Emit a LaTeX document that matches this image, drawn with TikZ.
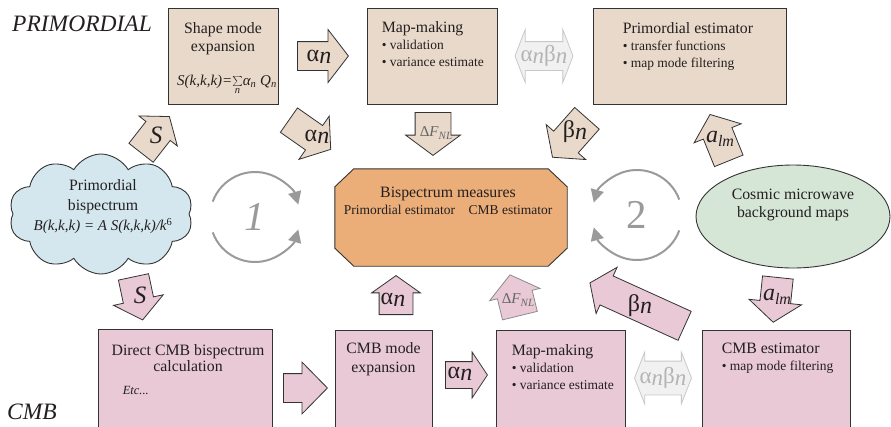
\documentclass[tikz,border=0pt]{standalone}
\usepackage{fontspec}
\setmainfont{Liberation Serif}
\usetikzlibrary{shapes.arrows, shapes.geometric, shapes.symbols, arrows.meta, positioning}

\definecolor{tanc}{HTML}{E9D9CA}
\definecolor{pinkc}{HTML}{E8C9D5}
\definecolor{orangec}{HTML}{EBAE79}
\definecolor{bluec}{HTML}{D4E7EF}
\definecolor{greenc}{HTML}{D5E6D6}
\definecolor{linec}{HTML}{333333}
\definecolor{txtc}{HTML}{231F20}
\definecolor{cycc}{HTML}{9A9A9A}
\definecolor{fadefill}{HTML}{F1F1F1}
\definecolor{fadeline}{HTML}{C8C8C8}
\definecolor{fadetext}{HTML}{B4B4B4}

\newcommand{\fsz}[2]{\fontsize{#1}{#2}\selectfont}
\newcommand{\alphn}{α\raisebox{-1.5pt}{\itshape n}}
\newcommand{\betan}{β\raisebox{-1.5pt}{\itshape n}}
\newcommand{\alm}{\textit{a}\raisebox{-4pt}{\fsz{16}{16}\itshape lm}}
\newcommand{\dFNL}{Δ\textit{F}\raisebox{-3pt}{\fsz{11}{11}\itshape NL}}

\begin{document}
\begin{tikzpicture}[
    x=1pt, y=1pt,
    every node/.style={text=txtc},
    tanbox/.style={draw=linec, fill=tanc, line width=0.9pt, inner sep=0pt},
    pinkbox/.style={tanbox, fill=pinkc},
    boxtext/.style={inner sep=0pt, align=left, font=\fsz{13.5}{17}},
    boxtitle/.style={inner sep=0pt, align=center, font=\fsz{15.8}{18}},
    barrow/.style n args={4}{single arrow, draw=linec, line width=0.8pt, inner sep=0pt,
        inner ysep=#3/2, minimum height=#1, single arrow head extend={(#2-#3)/2},
        single arrow tip angle={2*atan(#2/(2*#4))}, anchor=tail},
    tanarrow/.style n args={4}{barrow={#1}{#2}{#3}{#4}, fill=tanc},
    pinkarrow/.style n args={4}{barrow={#1}{#2}{#3}{#4}, fill=pinkc},
    darrow/.style n args={4}{double arrow, draw=fadeline, fill=fadefill, line width=0.8pt,
        inner sep=0pt, inner ysep=#3/2, minimum height=#1, double arrow head extend={(#2-#3)/2},
        double arrow tip angle={2*atan(#2/(2*#4))}},
    arrtext/.style={inner sep=0pt, font=\fsz{24}{24}},
    smalltext/.style={inner sep=0pt, font=\fsz{15}{15}, text=black!60},
    loopline/.style={draw=cycc, line width=2pt, -{Triangle[length=13pt, width=13pt]}},
    looplbl/.style={inner sep=0pt, text=cycc, font=\fsz{41}{41}},
    rowlbl/.style={inner sep=0pt, anchor=west, font=\fsz{23.5}{24}\itshape}
]
    \useasboundingbox (0,0) rectangle (891,-426);

    % primordial row
    \node[tanbox, minimum width=110, minimum height=96] (shapeBox) at (223,-56) {};
    \node[tanbox, minimum width=130, minimum height=96] (mapTop) at (432,-56) {};
    \node[tanbox, minimum width=193, minimum height=96] (primEst) at (689.5,-56) {};

    \node[boxtitle, below=14.8pt of shapeBox.north] (shapeTxt) {Shape mode\\expansion};
    \node[inner sep=0pt, font=\fsz{15}{15}\itshape, above=10pt of shapeBox.south, xshift=4pt] (shapeEq)
        {S(k,k,k)=$\sum\limits_{\mathit{n}}$α\textsubscript{n} Q\textsubscript{n}};
    \node[boxtext, below right=13.8pt and 15pt of mapTop.north west] (mapTopTxt)
        {{\fsz{15.8}{17}Map-making}\\• validation\\• variance estimate};
    \node[boxtext, below right=14.8pt and 30pt of primEst.north west] (primEstTxt)
        {{\fsz{15.8}{17}Primordial estimator}\\• transfer functions\\• map mode filtering};

    % CMB row
    \node[pinkbox, minimum width=174, minimum height=103] (directBox) at (185,-380.5) {};
    \node[pinkbox, minimum width=97, minimum height=102] (cmbModeBox) at (383.5,-381) {};
    \node[pinkbox, minimum width=129, minimum height=102] (mapBot) at (560.5,-381) {};
    \node[pinkbox, minimum width=148, minimum height=102] (cmbEst) at (776,-381) {};

    \node[boxtitle, font=\fsz{15.8}{16}, below=15.8pt of directBox.north, xshift=3pt] (directTxt)
        {Direct CMB bispectrum\\calculation};
    \node[inner sep=0pt, font=\fsz{12.5}{14}\itshape, below right=58pt and 25pt of directBox.north west] (etcTxt) {Etc...};
    \node[boxtitle, font=\fsz{15.8}{19}, below=12.8pt of cmbModeBox.north] (cmbModeTxt) {CMB mode\\expansion};
    \node[boxtext, below right=14.8pt and 16pt of mapBot.north west] (mapBotTxt)
        {{\fsz{15.8}{17}Map-making}\\• validation\\• variance estimate};
    \node[boxtext, below right=12.8pt and 20pt of cmbEst.north west] (cmbEstTxt)
        {{\fsz{15.8}{18}CMB estimator}\\• map mode filtering};

    % centre
    \node[minimum width=232, minimum height=97, inner sep=0pt] (bsm) at (451,-217.5) {};
    \draw[draw=linec, fill=orangec, line width=0.9pt]
        ([xshift=19pt]bsm.north west) -- ([xshift=-19pt]bsm.north east)
        -- ([yshift=-18pt]bsm.north east) -- ([yshift=18pt]bsm.south east)
        -- ([xshift=-19pt]bsm.south east) -- ([xshift=19pt]bsm.south west)
        -- ([yshift=18pt]bsm.south west) -- ([yshift=-18pt]bsm.north west) -- cycle;
    \node[boxtitle, font=\fsz{15.8}{17}, below=18pt of bsm.north, xshift=-3pt] (bsmTxt)
        {Bispectrum measures\\{\fsz{13.5}{17}Primordial estimator\quad CMB estimator}};

    \node[cloud, cloud puffs=10, cloud puff arc=120, cloud ignores aspect, draw=linec, fill=bluec,
        line width=0.9pt, minimum width=184, minimum height=120, inner sep=0pt] (pbs) at (101,-214) {};
    \node[boxtitle, font=\fsz{15.8}{20}, at={([xshift=2pt, yshift=7pt]pbs.center)}] (pbsTxt)
        {Primordial\\bispectrum\\{\fsz{15}{20}\itshape B(k,k,k) = A S(k,k,k)/k\textsuperscript{\upshape 6}}};

    \node[ellipse, draw=linec, fill=greenc, line width=0.9pt, minimum width=194, minimum height=103,
        inner sep=0pt] (cmbm) at (793,-216.5) {};
    \node[boxtitle, at={([yshift=12pt]cmbm.center)}] (cmbmTxt) {Cosmic microwave\\background maps};

    % loops
    \coordinate (loopA) at (255,-217);
    \draw[loopline] ([shift={(160:45)}]loopA) arc[start angle=160, end angle=16, radius=45];
    \draw[loopline] ([shift={(200:45)}]loopA) arc[start angle=200, end angle=344, radius=45];
    \node[looplbl, font=\fsz{41}{41}\itshape] (loopAlbl) at (loopA) {1};
    \coordinate (loopB) at (637,-215);
    \draw[loopline] ([shift={(20:45)}]loopB) arc[start angle=20, end angle=164, radius=45];
    \draw[loopline] ([shift={(-20:45)}]loopB) arc[start angle=-20, end angle=-164, radius=45];
    \node[looplbl] (loopBlbl) at (loopB) {2};

    % block arrows, primordial side
    \node[tanarrow={51}{52}{28}{20}] (aTopR) at (297,-56) {};
    \node[arrtext] at (319,-57) {\alphn};
    \node[darrow={58}{52}{28}{10}] (abTop) at (544,-56) {};
    \node[arrtext, font=\fsz{23}{23}, text=fadetext] at (abTop) {\alphn\betan};
    \node[tanarrow={43}{54}{35}{20}, rotate=-90] (dfTop) at (433,-112) {};
    \node[smalltext] at (436,-133) {\dFNL};
    \node[tanarrow={51}{52}{29}{20}, rotate=-35] (aDiag) at (288.6,-119.9) {};
    \node[arrtext] at (317,-137) {\alphn};
    \node[tanarrow={52}{52}{32}{20}, rotate=228.5] (bDiag) at (587.2,-118) {};
    \node[arrtext] at (575,-132) {\betan};
    \node[tanarrow={50}{50}{30}{20}, rotate=112] (almTop) at (728.9,-161.2) {};
    \node[arrtext] at (720,-139) {\alm};
    \node[tanarrow={46}{48}{30}{18}, rotate=52] (sTop) at (140.8,-153.1) {};
    \node[arrtext, font=\fsz{25}{25}\itshape] at (156,-135) {S};

    % block arrows, CMB side
    \node[pinkarrow={44}{50}{30}{20}, rotate=-78] (sBot) at (133.4,-276.5) {};
    \node[arrtext, font=\fsz{25}{25}\itshape] at (140,-295) {S};
    \node[pinkarrow={39}{48}{33}{17}, rotate=90] (aBotUp) at (396,-315) {};
    \node[arrtext] at (393,-300) {\alphn};
    \node[pinkarrow={42}{51}{35}{20}, rotate=103.7, draw=black!45] (dfBot) at (520,-316) {};
    \node[smalltext] at (518,-300) {\dFNL};
    \node[pinkarrow={104}{50}{31}{18}, rotate=155.6] (bBig) at (685,-326) {};
    \node[arrtext] at (640,-306) {\betan};
    \node[pinkarrow={45}{52}{30}{20}, rotate=-96] (almBot) at (777.9,-277.1) {};
    \node[arrtext] at (777,-297) {\alm};
    \node[pinkarrow={44}{51}{28}{25}] (arrBotR) at (283,-388) {};
    \node[pinkarrow={42}{45}{26}{15}] (aBotR) at (445,-375) {};
    \node[arrtext] at (460,-374) {\alphn};
    \node[darrow={57}{51}{33}{10}] (abBot) at (663,-378) {};
    \node[arrtext, font=\fsz{23}{23}, text=fadetext] at (abBot) {\alphn\betan};

    % row labels
    \node[rowlbl] (primLbl) at (12,-23.5) {PRIMORDIAL};
    \node[rowlbl] (cmbLbl) at (7,-412) {CMB};
\end{tikzpicture}
\end{document}
